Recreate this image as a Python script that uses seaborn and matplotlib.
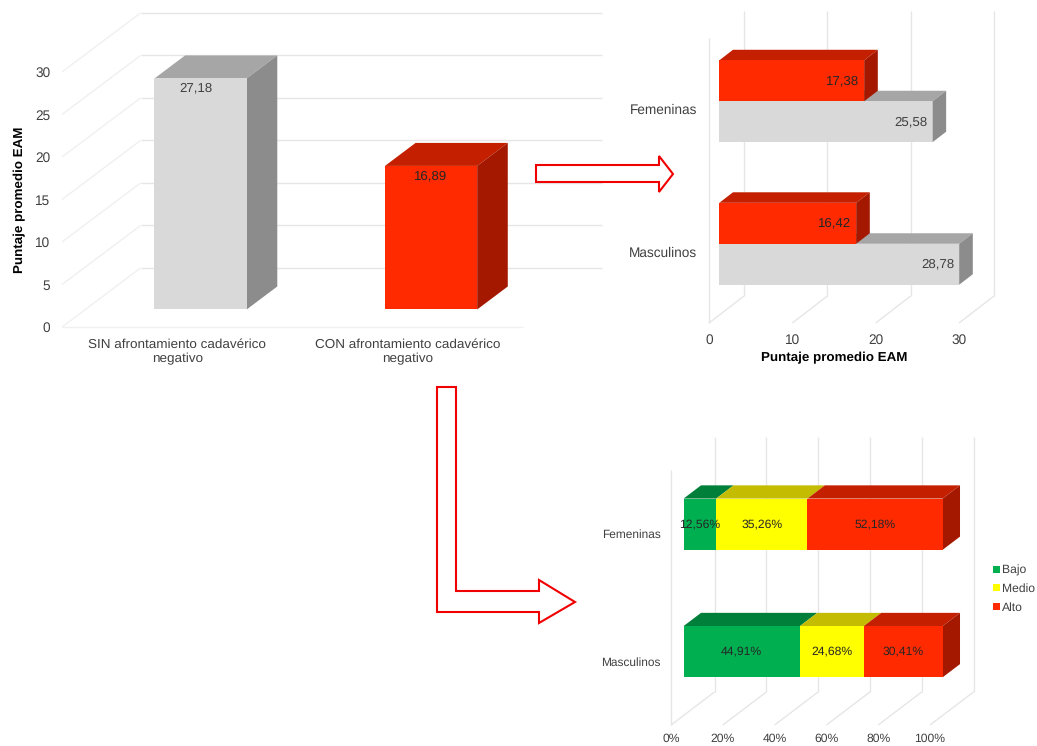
import matplotlib
matplotlib.use("Agg")
import matplotlib.pyplot as plt
from matplotlib.patches import Patch, Polygon
import pandas as pd
import seaborn as sns

# --- data ---------------------------------------------------------------
coping_labels = ["SIN afrontamiento cadavérico\nnegativo",
                 "CON afrontamiento cadavérico\nnegativo"]
coping_scores = [27.18, 16.89]

sex_labels = ["Femeninas", "Masculinos"]
score_with = [17.38, 16.42]
score_without = [25.58, 28.78]

level_names = ["Bajo", "Medio", "Alto"]
level_bajo = [12.56, 44.91]
level_medio = [35.26, 24.68]
level_alto = [52.18, 30.41]

# --- styling ------------------------------------------------------------
W, H, DPI = 1037, 746, 100
TEXT = "#404040"
GRID = "#e6e6e6"
GRID_FAINT = "#f0f0f0"
FACE = {
    "gray": ("#d9d9d9", "#a6a6a6", "#8c8c8c"),
    "red": ("#ff2a00", "#c42000", "#a51800"),
    "green": ("#00b050", "#007f3a", "#007f3a"),
    "yellow": ("#ffff00", "#c4bc00", "#c4bc00"),
}

sns.set_theme(style="white")
plt.rcParams["font.family"] = ["Liberation Sans", "DejaVu Sans"]
plt.rcParams["text.color"] = TEXT
plt.rcParams["axes.labelcolor"] = "black"
plt.rcParams["text.hinting"] = "none"

fig = plt.figure(figsize=(W / DPI, H / DPI), dpi=DPI, facecolor="white")


def axes_at(left, right, top, bottom):
    """Axes placed by its pixel edges, measured from the top left corner."""
    ax = fig.add_axes([left / W, 1 - bottom / H, (right - left) / W, (bottom - top) / H])
    ax.patch.set_alpha(0)
    for spine in ax.spines.values():
        spine.set_visible(False)
    return ax


def pixel_scale(ax):
    """Data units per pixel along each axis (negative on an inverted axis)."""
    box = ax.get_window_extent()
    x0, x1 = ax.get_xlim()
    y0, y1 = ax.get_ylim()
    return (x1 - x0) / box.width, (y1 - y0) / box.height


def depth_shift(ax, depth, fraction):
    sx, sy = pixel_scale(ax)
    return depth[0] * fraction * sx, depth[1] * fraction * sy


def move_back(ax, bar, depth, fraction, extra_x=0.0):
    """Slide a drawn bar towards the back wall of the chart."""
    dx, dy = depth_shift(ax, depth, fraction)
    bar.set_x(bar.get_x() + dx + extra_x)
    bar.set_y(bar.get_y() + dy)


def extrude(ax, bar, depth, fraction, colours, zorder, side=True):
    """Draw the top and right faces that give a bar its volume."""
    dx, dy = depth_shift(ax, depth, fraction)
    x0, x1 = bar.get_x(), bar.get_x() + bar.get_width()
    y_a, y_b = bar.get_y(), bar.get_y() + bar.get_height()
    up = 1 if pixel_scale(ax)[1] > 0 else -1
    y_top, y_low = max(y_a * up, y_b * up) * up, min(y_a * up, y_b * up) * up
    ax.add_patch(Polygon([(x0, y_top), (x1, y_top), (x1 + dx, y_top + dy), (x0 + dx, y_top + dy)],
                         closed=True, fc=colours[1], ec="none", zorder=zorder, clip_on=False))
    if side:
        ax.add_patch(Polygon([(x1, y_low), (x1, y_top), (x1 + dx, y_top + dy), (x1 + dx, y_low + dy)],
                             closed=True, fc=colours[2], ec="none", zorder=zorder, clip_on=False))
    bar.set_zorder(zorder + 0.1)
    bar.set_clip_on(False)


def grid_line(ax, xs, ys, color=GRID):
    ax.plot(xs, ys, color=color, lw=1.0, zorder=0.5, clip_on=False, solid_capstyle="butt")


def vertical_walls(ax, ticks, depth, bottom_y, top_y, left_x):
    """Grid of a horizontal-bar chart: floor diagonals, back uprights, left upright."""
    dx, dy = depth_shift(ax, depth, 1.0)
    for t in ticks:
        grid_line(ax, [t, t + dx], [bottom_y, bottom_y + dy])
        grid_line(ax, [t + dx, t + dx], [bottom_y + dy, top_y + dy])
    grid_line(ax, [left_x, left_x], [bottom_y, top_y])


# --- left chart: mean score by coping group -----------------------------
ax1 = axes_at(62, 523, 72, 327)
frame1 = pd.DataFrame({"grupo": coping_labels, "puntaje": coping_scores})
sns.barplot(data=frame1, x="grupo", y="puntaje", hue="grupo", order=coping_labels,
            palette=[FACE["gray"][0], FACE["red"][0]], width=0.4, saturation=1,
            edgecolor="none", linewidth=0, legend=False, ax=ax1)
ax1.set_xlim(-0.5, 1.5)
ax1.set_ylim(0, 30)
ax1.set_yticks(range(0, 31, 5))
ax1.set_xlabel("")
ax1.set_ylabel("Puntaje promedio EAM", fontweight="bold", fontsize=9.6, labelpad=6.5)
ax1.tick_params(axis="x", length=0, pad=8, labelsize=9.7, labelcolor=TEXT)
ax1.tick_params(axis="y", length=0, pad=8.5, labelsize=9.8, labelcolor=TEXT)
for tick_label in ax1.get_xticklabels():
    tick_label.set_linespacing(1.3)

depth1 = (78.5, 59)
dx1, dy1 = depth_shift(ax1, depth1, 1.0)
for v in range(0, 31, 5):
    grid_line(ax1, [-0.5, -0.5 + dx1], [v, v + dy1], GRID_FAINT)
    grid_line(ax1, [-0.5 + dx1, 1.5 + dx1], [v + dy1, v + dy1])
grid_line(ax1, [-0.5, 1.5], [0, 0], GRID_FAINT)

label_nudge = [-3, 0]
for bar, score, key, nudge in zip(ax1.patches, coping_scores, ["gray", "red"], label_nudge):
    move_back(ax1, bar, depth1, 0.297)
    extrude(ax1, bar, depth1, 0.39, FACE[key], zorder=2)
    ax1.annotate(f"{score:.2f}".replace(".", ","),
                 (bar.get_x() + bar.get_width() / 2, bar.get_y() + bar.get_height()),
                 xytext=(nudge, -7.2), textcoords="offset points", ha="center", va="center",
                 fontsize=9.5, color="#262626" if key == "red" else TEXT, zorder=5)

# --- upper right chart: mean score by sex and coping group --------------
ax2 = axes_at(709, 959, 38, 323)
frame2 = pd.DataFrame({
    "sexo": sex_labels * 2,
    "puntaje": score_with + score_without,
    "grupo": ["CON"] * 2 + ["SIN"] * 2,
})
sns.barplot(data=frame2, y="sexo", x="puntaje", hue="grupo", hue_order=["CON", "SIN"],
            order=sex_labels, palette=[FACE["red"][0], FACE["gray"][0]], width=0.575,
            saturation=1, edgecolor="none", linewidth=0, legend=False, ax=ax2)
ax2.set_xlim(0, 30)
ax2.set_ylim(1.5, -0.5)
ax2.set_xticks([0, 10, 20, 30])
ax2.set_xlabel("Puntaje promedio EAM", fontweight="bold", fontsize=9.6, labelpad=4)
ax2.set_ylabel("")
ax2.tick_params(axis="x", length=0, pad=7.5, labelsize=9.8, labelcolor=TEXT)
ax2.tick_params(axis="y", length=0, pad=8.5, labelsize=9.8, labelcolor=TEXT)

depth2 = (35, 27)
vertical_walls(ax2, [0, 10, 20, 30], depth2, 1.5, -0.5, 0)
layers = [(ax2.containers[1], "gray", 2), (ax2.containers[0], "red", 3)]
for container, key, z in layers:
    for bar in container:
        move_back(ax2, bar, depth2, 0.295)
        extrude(ax2, bar, depth2, 0.39, FACE[key], zorder=z)
for values, (container, key, _) in zip([score_without, score_with], layers):
    for bar, score in zip(container, values):
        ax2.annotate(f"{score:.2f}".replace(".", ","),
                     (bar.get_x() + bar.get_width(), bar.get_y() + bar.get_height() / 2),
                     xytext=(-3.5, 0), textcoords="offset points", ha="right", va="center",
                     fontsize=9.5, color="#262626" if key == "red" else TEXT, zorder=6)

# --- lower right chart: share of each level by sex ----------------------
ax3 = axes_at(671, 930, 470, 725)
level_values = [level_bajo, level_medio, level_alto]
level_keys = ["green", "yellow", "red"]
for name, values, key in zip(level_names, level_values, level_keys):
    frame3 = pd.DataFrame({"sexo": sex_labels, "porcentaje": values})
    sns.barplot(data=frame3, y="sexo", x="porcentaje", order=sex_labels, color=FACE[key][0],
                width=0.402, saturation=1, edgecolor="none", linewidth=0, ax=ax3)
ax3.set_xlim(0, 100)
ax3.set_ylim(1.5, -0.5)
ax3.set_xticks(range(0, 101, 20))
ax3.set_xticklabels([f"{t}%" for t in range(0, 101, 20)])
ax3.set_xlabel("")
ax3.set_ylabel("")
ax3.tick_params(axis="x", length=0, pad=6, labelsize=8.7, labelcolor=TEXT)
ax3.tick_params(axis="y", length=0, pad=7.5, labelsize=8.6, labelcolor=TEXT)

depth3 = (43.5, 33)
vertical_walls(ax3, range(0, 101, 20), depth3, 1.5, -0.5, 0)
for row in range(len(sex_labels)):
    running = 0.0
    for col, key in enumerate(level_keys):
        bar = ax3.containers[col][row]
        share = level_values[col][row]
        move_back(ax3, bar, depth3, 0.29, extra_x=running)
        extrude(ax3, bar, depth3, 0.40, FACE[key], zorder=2, side=col == len(level_keys) - 1)
        ax3.annotate(f"{share:.2f}%".replace(".", ","),
                     (bar.get_x() + bar.get_width() / 2, bar.get_y() + bar.get_height() / 2),
                     ha="center", va="center", fontsize=8.7, color="#262626", zorder=6)
        running += share

ax3.legend(handles=[Patch(fc=FACE[k][0], ec="none") for k in level_keys], labels=level_names,
           loc="center left", bbox_to_anchor=(993 / W, 1 - 589 / H),
           bbox_transform=fig.transFigure, frameon=False, fontsize=8.7, labelcolor=TEXT,
           handlelength=0.55, handleheight=0.55, handletextpad=0.2, labelspacing=0.6,
           borderpad=0, borderaxespad=0)

# --- connecting arrows, in figure pixels --------------------------------
arrow_right = [(536, 165), (659, 165), (659, 156), (673, 174), (659, 192), (659, 182), (536, 182)]
arrow_corner = [(437, 387), (456, 387), (456, 591), (539, 591), (539, 580), (575, 602),
                (539, 623), (539, 612), (437, 612)]
for outline in (arrow_right, arrow_corner):
    fig.add_artist(Polygon([(x / W, 1 - y / H) for x, y in outline], closed=True,
                           transform=fig.transFigure, fc="white", ec="#f00000", lw=1.5,
                           zorder=8))

fig.savefig("out.png", dpi=DPI, facecolor="white")
